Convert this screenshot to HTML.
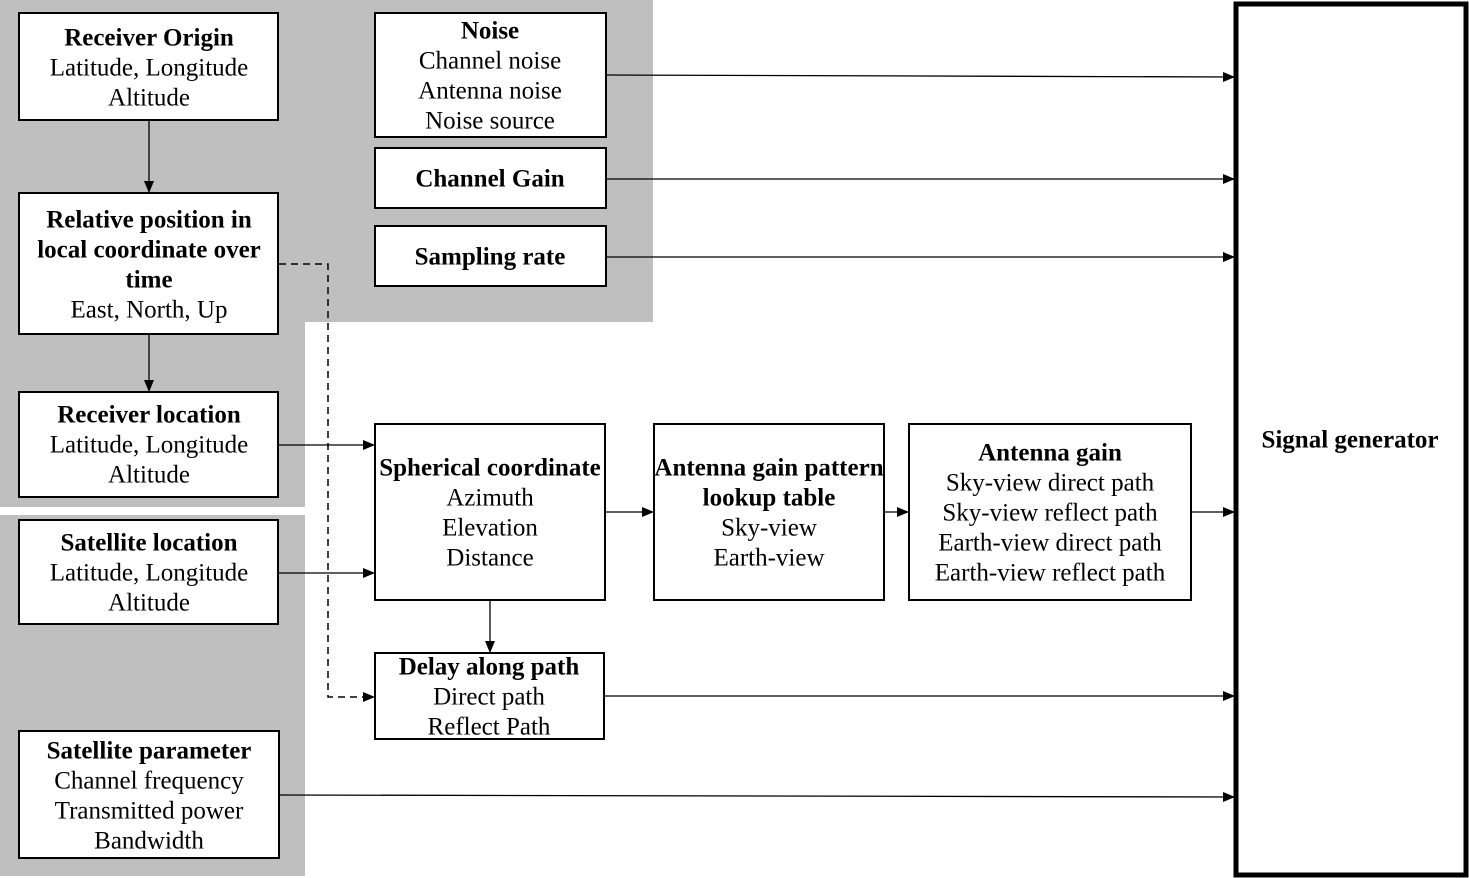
<!DOCTYPE html>
<html><head><meta charset="utf-8"><style>
body{margin:0;background:#fff;}
svg{display:block;font-family:"Liberation Serif",serif;font-size:25px;}
text{text-anchor:middle;dominant-baseline:central;}
.b{font-weight:bold;}
rect.n{fill:#fff;stroke:#000;stroke-width:2;}
line{stroke:#000;stroke-width:1.3;}
</style></head><body>
<svg width="1469" height="878" viewBox="0 0 1469 878">
<defs><marker id="a" markerWidth="12" markerHeight="10" refX="11" refY="5" orient="auto" markerUnits="userSpaceOnUse"><path d="M0,0 L12,5 L0,10z" fill="#000"/></marker></defs>
<rect x="0" y="0" width="653" height="322" fill="#bfbfbf"/>
<rect x="0" y="0" width="305" height="507" fill="#bfbfbf"/>
<rect x="0" y="515" width="305" height="361" fill="#bfbfbf"/>
<rect x="1236" y="4" width="230" height="871" fill="#fff" stroke="#000" stroke-width="5"/>
<text x="1350" y="440" class="b">Signal generator</text>

<rect class="n" x="19" y="13" width="259" height="107"/>
<text x="149" y="38" class="b">Receiver Origin</text><text x="149" y="68">Latitude, Longitude</text><text x="149" y="98">Altitude</text>
<rect class="n" x="19" y="193" width="259" height="141"/>
<text x="149" y="220" class="b">Relative position in</text><text x="149" y="250" class="b">local coordinate  over</text><text x="149" y="280" class="b">time</text><text x="149" y="310">East, North, Up</text>
<rect class="n" x="19" y="392" width="259" height="105"/>
<text x="149" y="415" class="b">Receiver location</text><text x="149" y="445">Latitude, Longitude</text><text x="149" y="475">Altitude</text>
<rect class="n" x="19" y="520" width="259" height="104"/>
<text x="149" y="543" class="b">Satellite location</text><text x="149" y="573">Latitude, Longitude</text><text x="149" y="603">Altitude</text>
<rect class="n" x="19" y="731" width="260" height="127"/>
<text x="149" y="751" class="b">Satellite parameter</text><text x="149" y="781">Channel frequency</text><text x="149" y="811">Transmitted power</text><text x="149" y="841">Bandwidth</text>

<rect class="n" x="375" y="13" width="231" height="124"/>
<text x="490" y="31" class="b">Noise</text><text x="490" y="61">Channel noise</text><text x="490" y="91">Antenna noise</text><text x="490" y="121">Noise source</text>
<rect class="n" x="375" y="148" width="231" height="60"/><text x="490" y="179" class="b">Channel Gain</text>
<rect class="n" x="375" y="226" width="231" height="60"/><text x="490" y="257" class="b">Sampling rate</text>

<rect class="n" x="375" y="424" width="230" height="176"/>
<text x="490" y="468" class="b">Spherical coordinate</text><text x="490" y="498">Azimuth</text><text x="490" y="528">Elevation</text><text x="490" y="558">Distance</text>
<rect class="n" x="375" y="653" width="229" height="86"/>
<text x="489" y="667" class="b">Delay along path</text><text x="489" y="697">Direct path</text><text x="489" y="727">Reflect Path</text>
<rect class="n" x="654" y="424" width="230" height="176"/>
<text x="769" y="468" class="b">Antenna gain pattern</text><text x="769" y="498" class="b">lookup table</text><text x="769" y="528">Sky-view</text><text x="769" y="558">Earth-view</text>
<rect class="n" x="909" y="424" width="282" height="176"/>
<text x="1050" y="453" class="b">Antenna gain</text><text x="1050" y="483">Sky-view direct path</text><text x="1050" y="513">Sky-view reflect path</text><text x="1050" y="543">Earth-view direct path</text><text x="1050" y="573">Earth-view reflect path</text>

<line x1="149" y1="121" x2="149" y2="192" marker-end="url(#a)"/>
<line x1="149" y1="335" x2="149" y2="391" marker-end="url(#a)"/>
<line x1="279" y1="445" x2="374" y2="445" marker-end="url(#a)"/>
<line x1="279" y1="573" x2="374" y2="573" marker-end="url(#a)"/>
<line x1="490" y1="601" x2="490" y2="652" marker-end="url(#a)"/>
<polyline points="279,264 328,264 328,697 374,697" fill="none" stroke="#000" stroke-width="1.5" stroke-dasharray="7,5" marker-end="url(#a)"/>
<line x1="607" y1="75" x2="1234" y2="77" marker-end="url(#a)"/>
<line x1="607" y1="179" x2="1234" y2="179" marker-end="url(#a)"/>
<line x1="607" y1="257" x2="1234" y2="257" marker-end="url(#a)"/>
<line x1="606" y1="512" x2="653" y2="512" marker-end="url(#a)"/>
<line x1="885" y1="512" x2="908" y2="512" marker-end="url(#a)"/>
<line x1="1192" y1="512" x2="1234" y2="512" marker-end="url(#a)"/>
<line x1="605" y1="696" x2="1234" y2="696" marker-end="url(#a)"/>
<line x1="280" y1="795" x2="1234" y2="797" marker-end="url(#a)"/>
</svg>
</body></html>
